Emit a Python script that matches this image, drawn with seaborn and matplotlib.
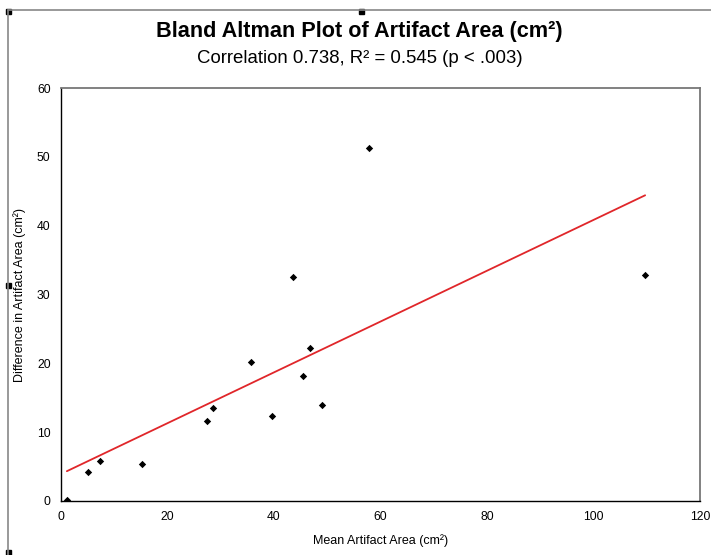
# Bland Altman plot of artifact area

import matplotlib
matplotlib.use('Agg')
import matplotlib.pyplot as plt
import seaborn as sns
import pandas as pd
from matplotlib.patches import Rectangle
from matplotlib.lines import Line2D


mean_area = [1.1, 5.1, 7.3, 15.2, 27.4, 28.5, 35.7, 39.6, 43.6, 45.4, 46.8, 49.0, 57.8, 109.7]
diff_area = [0.1, 4.2, 5.8, 5.4, 11.6, 13.5, 20.2, 12.3, 32.5, 18.2, 22.2, 13.9, 51.3, 32.8]
x_ticks = [0, 20, 40, 60, 80, 100, 120]
y_ticks = [0, 10, 20, 30, 40, 50, 60]


def main():
    sns.set_style('white')
    plt.rcParams['font.family'] = ['Liberation Sans', 'DejaVu Sans']
    plt.rcParams['text.color'] = 'black'
    plt.rcParams['axes.labelcolor'] = 'black'
    plt.rcParams['xtick.color'] = 'black'
    plt.rcParams['ytick.color'] = 'black'

    df = pd.DataFrame({'mean': mean_area, 'diff': diff_area})

    fig = plt.figure(figsize=(7.11, 5.55), dpi=100)
    ax = fig.add_axes([0.0858, 0.0973, 0.8987, 0.7441])

    sns.regplot(data=df, x='mean', y='diff', ax=ax, ci=None, marker='D',
                scatter_kws={'s': 14, 'color': 'black', 'linewidths': 0, 'alpha': 1},
                line_kws={'color': '#e0262a', 'lw': 1.3})

    ax.set_xlim(0, 120)
    ax.set_ylim(0, 60)
    ax.set_xticks(x_ticks)
    ax.set_yticks(y_ticks)
    ax.tick_params(direction='inout', length=7, width=0.8, color='#555555',
                   labelsize=8.7, pad=4, labelcolor='black')
    for s in ['left', 'bottom']:
        ax.spines[s].set_color('black')
        ax.spines[s].set_linewidth(1.0)
    for s in ['top', 'right']:
        ax.spines[s].set_color('#777777')
        ax.spines[s].set_linewidth(1.3)
    ax.set_xlabel('Mean Artifact Area (cm²)', fontsize=9, labelpad=8)
    ax.set_ylabel('Difference in Artifact Area (cm²)', fontsize=9, labelpad=8)

    fig.text(0.506, 0.943, 'Bland Altman Plot of Artifact Area (cm²)',
             ha='center', va='center', fontsize=15.6, fontweight='bold', color='black')
    fig.text(0.506, 0.895, 'Correlation 0.738, R² = 0.545 (p < .003)',
             ha='center', va='center', fontsize=13.4, color='black')

    # outer frame of the embedded chart object
    fig.add_artist(Line2D([0.0113, 1.0], [0.982, 0.982], color='#888888', lw=1.2))
    fig.add_artist(Line2D([0.0113, 0.0113], [0.0, 0.982], color='#888888', lw=1.2))
    for hx, hy in [(0.0113, 0.980), (0.509, 0.980), (0.0113, 0.486), (0.0113, 0.004)]:
        fig.add_artist(Rectangle((hx - 0.0035, hy - 0.0045), 0.007, 0.009,
                                 color='black', transform=fig.transFigure))

    fig.savefig('out.png', dpi=100)


if __name__ == "__main__":
    main()
